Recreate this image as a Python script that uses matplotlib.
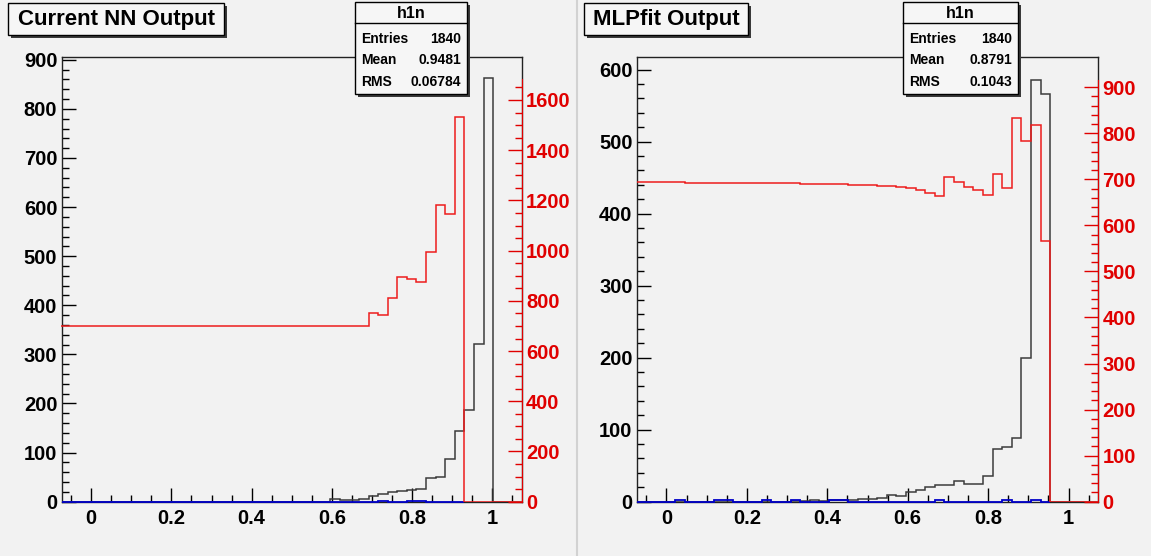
import numpy as np
import matplotlib.pyplot as plt
from matplotlib.patches import Rectangle
from matplotlib.lines import Line2D
from matplotlib.ticker import MultipleLocator, FuncFormatter

plt.rcParams['font.family'] = ['Liberation Sans', 'DejaVu Sans']
plt.rcParams['font.weight'] = 'bold'

W, H = 1151, 556
BG = '#f2f2f2'

# 48 bins between -0.0739 and 1.0739
bin_edges = np.linspace(-0.0739, 1.0739, 49)

nn_black = [0, 0, 0, 0, 0, 0, 0, 0, 0, 0, 0, 0, 0, 0, 0, 0,
            0, 0, 0, 0, 0, 0, 0, 0, 0, 0, 0, 0, 6, 4, 3, 6,
            12, 16, 20, 22, 24, 26, 48, 51, 86, 144, 187, 321, 863, 0, 0, 0]
nn_red = [700, 700, 700, 700, 700, 700, 700, 700, 700, 700, 700, 700, 700, 700, 700, 700,
          700, 700, 700, 700, 700, 700, 700, 700, 700, 700, 700, 700, 700, 700, 700, 700,
          750, 743, 810, 894, 886, 874, 993, 1182, 1145, 1531, 0, 0, 0, 0, 0, 0]
nn_blue = [0, 0, 0, 0, 0, 0, 0, 0, 0, 0, 0, 0, 0, 0, 0, 0,
           0, 0, 0, 0, 0, 0, 0, 0, 0, 0, 0, 0, 0, 0, 0, 0,
           0, 1, 0, 0, 1, 1, 0, 0, 0, 0]

mlp_black = [0, 0, 0, 0, 0, 0, 0, 0, 0, 0, 0, 0, 0, 0, 0, 0,
             1, 1, 2, 1, 2, 2, 3, 4, 4, 5, 9, 8, 13, 16, 20, 23,
             23, 29, 24, 24, 36, 73, 76, 89, 200, 586, 566, 0, 0, 0, 0, 0]
mlp_red = [694, 694, 694, 694, 694, 693, 693, 693, 693, 693, 692, 692, 692, 692, 691, 691,
           691, 690, 690, 690, 689, 689, 688, 688, 687, 686, 686, 683, 681, 676, 670, 663,
           705, 695, 684, 676, 665, 712, 681, 833, 783, 818, 567, 0, 0, 0, 0, 0]
mlp_blue = [0, 0, 0, 0, 2, 0, 0, 0, 2, 2, 0, 0, 0, 2, 0, 0,
            2, 0, 0, 0, 2, 2, 0, 0, 0, 0, 0, 0, 0, 0, 0, 2,
            0, 0, 0, 0, 0, 0, 2, 0, 0, 2, 0]

titles = ['Current NN Output', 'MLPfit Output']
stat_names = ['Entries', 'Mean', 'RMS']
nn_stats = ['1840', '0.9481', '0.06784']
mlp_stats = ['1840', '0.8791', '0.1043']


def px_rect(x0, y0, x1, y1):
    # pixel box measured from the top left -> figure fractions
    return [x0 / W, 1 - y1 / H, (x1 - x0) / W, (y1 - y0) / H]


def shadow_box(fig, x0, y0, x1, y1):
    l, b, w, h = px_rect(x0, y0, x1, y1)
    fig.add_artist(Rectangle((l + 3 / W, b - 3 / H), w, h, transform=fig.transFigure,
                             facecolor='#3a3a3a', edgecolor='none', zorder=5))
    fig.add_artist(Rectangle((l, b), w, h, transform=fig.transFigure,
                             facecolor='#f6f6f6', edgecolor='black', lw=1, zorder=6))


def title_box(fig, text, box):
    x0, y0, x1, y1 = box
    shadow_box(fig, x0, y0, x1, y1)
    fig.text((x0 + x1) / 2 / W, 1 - (y0 + y1) / 2 / H, text, ha='center', va='center',
             fontsize=16, fontweight='bold', zorder=7)


def stats_box(fig, values, box):
    x0, y0, x1, y1 = box
    shadow_box(fig, x0, y0, x1, y1)
    fig.text((x0 + x1) / 2 / W, 1 - (y0 + 11) / H, 'h1n', ha='center', va='center',
             fontsize=11.5, fontweight='bold', zorder=7)
    fig.add_artist(Line2D([x0 / W, x1 / W], [1 - (y0 + 21) / H] * 2, transform=fig.transFigure,
                          color='black', lw=1, zorder=7))
    for i, (name, val) in enumerate(zip(stat_names, values)):
        yy = 1 - (y0 + 37 + 21.5 * i) / H
        fig.text((x0 + 6) / W, yy, name, ha='left', va='center', fontsize=10, zorder=7)
        fig.text((x1 - 6) / W, yy, val, ha='right', va='center', fontsize=10, zorder=7)


def draw_panel(fig, rect, black, red, blue, black_top, red_top, red_major, red_minor):
    ax = fig.add_axes(rect)
    ax.set_facecolor(BG)
    ax.stairs(black, bin_edges, baseline=None, color='#3c3c3c', lw=1.1, zorder=3)
    ax.stairs(blue, bin_edges[:len(blue) + 1], baseline=None, color='#0000c8', lw=1.3,
              zorder=4, clip_on=False)
    ax.set_xlim(bin_edges[0], bin_edges[-1])
    ax.set_ylim(0, black_top)

    ax.xaxis.set_major_locator(MultipleLocator(0.2))
    ax.xaxis.set_minor_locator(MultipleLocator(0.05))
    ax.xaxis.set_major_formatter(FuncFormatter(lambda v, p: '%g' % round(v, 3)))
    ax.yaxis.set_major_locator(MultipleLocator(100))
    ax.yaxis.set_minor_locator(MultipleLocator(20))
    ax.tick_params(which='major', direction='in', length=10, width=1, labelsize=14.5,
                   top=False, right=False)
    ax.tick_params(which='minor', direction='in', length=5, width=1, top=False, right=False)
    ax.tick_params(axis='x', which='major', pad=5)
    ax.tick_params(axis='y', which='major', pad=3)
    for lab in ax.get_xticklabels() + ax.get_yticklabels():
        lab.set_fontweight('bold')
    for sp in ax.spines.values():
        sp.set_linewidth(1)
        sp.set_color('#222222')

    ax2 = ax.twinx()
    red_axis_top = 1.1 * max(red)
    ax2.stairs(red, bin_edges, baseline=None, color='#ee1c1c', lw=1.1, zorder=3)
    ax2.set_ylim(0, red_top)
    ax2.set_yticks(np.arange(0, red_axis_top, red_major))
    ax2.set_yticks(np.arange(0, red_axis_top, red_minor), minor=True)
    ax2.tick_params(axis='y', which='major', direction='in', length=10, width=1, pad=3,
                    colors='#e00000', labelsize=14.5)
    ax2.tick_params(axis='y', which='minor', direction='in', length=5, width=1,
                    colors='#e00000')
    for lab in ax2.get_yticklabels():
        lab.set_fontweight('bold')
    for side in ['left', 'top', 'bottom']:
        ax2.spines[side].set_visible(False)
    ax2.spines['right'].set_color('#e00000')
    ax2.spines['right'].set_bounds(0, red_axis_top)
    return ax, ax2


fig = plt.figure(figsize=(W / 100, H / 100), dpi=100, facecolor=BG)

draw_panel(fig, px_rect(61.5, 57.3, 522, 501.7), nn_black, nn_red, nn_blue, 905, 1770, 200, 50)
draw_panel(fig, px_rect(636.7, 57.3, 1098.3, 501.7), mlp_black, mlp_red, mlp_blue, 617, 965, 100, 20)

fig.add_artist(Line2D([577 / W, 577 / W], [0, 1], transform=fig.transFigure, color='#d2d2d2', lw=1.5))

title_box(fig, titles[0], (8, 3, 224, 35))
title_box(fig, titles[1], (584, 3, 748, 35))
stats_box(fig, nn_stats, (355, 2, 467, 94))
stats_box(fig, mlp_stats, (903, 2, 1018, 94))

fig.savefig('out.png', dpi=100, facecolor=fig.get_facecolor())
